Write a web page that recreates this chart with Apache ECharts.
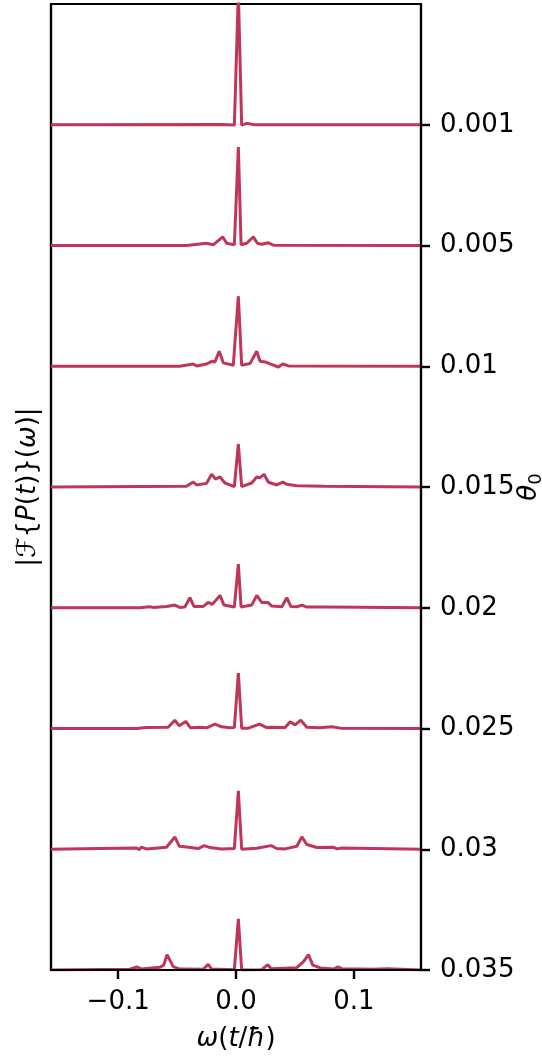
<!DOCTYPE html>
<html>
<head>
<meta charset="utf-8">
<script src="https://cdn.jsdelivr.net/npm/echarts@6/dist/echarts.min.js"></script>
<style>
  html, body { margin: 0; padding: 0; background: #fff; }
  #chart { width: 542px; height: 1059px; }
</style>
</head>
<body>
<div id="chart"></div>
<script>
// θ0 values, one spectrum per row, top to bottom
const thetaLabels = ['0.001', '0.005', '0.01', '0.015', '0.02', '0.025', '0.03', '0.035'];

// frequency axis range and tick positions
const omegaMin = -0.157;
const omegaMax = 0.157;
const omegaTicks = [-0.1, 0, 0.1];

// |F{P(t)}(ω)| per θ0 as [ω, amplitude], amplitude in units of the row spacing
const spec001 = [[-0.157, 0], [-0.012, 0.002], [-0.0014, -0.003], [0.002, 1.1], [0.0048, -0.003], [0.0091, 0.012], [0.0147, 0.001], [0.157, 0]];
const spec005 = [[-0.157, 0], [-0.042, 0], [-0.025, 0.019], [-0.0193, 0.006], [-0.0113, 0.072], [-0.0079, 0.019], [-0.0014, 0.006], [0.002, 0.815], [0.0043, 0.006], [0.0091, 0.019], [0.0147, 0.072], [0.0181, 0.019], [0.0218, 0.011], [0.0275, 0.022], [0.0318, 0.002], [0.157, 0]];
const spec01 = [[-0.157, 0], [-0.0477, 0], [-0.0363, 0.019], [-0.0335, 0.002], [-0.025, 0.019], [-0.0207, 0.041], [-0.0179, 0.036], [-0.0142, 0.124], [-0.0108, 0.028], [-0.0023, 0.008], [0.002, 0.58], [0.0048, 0.008], [0.0119, 0.022], [0.0176, 0.124], [0.0204, 0.041], [0.0247, 0.036], [0.0289, 0.019], [0.036, -0.006], [0.0397, 0.019], [0.0445, 0.003], [0.157, 0]];
const spec015 = [[-0.157, 0], [-0.042, 0.006], [-0.0363, 0.041], [-0.0335, 0.017], [-0.025, 0.03], [-0.0207, 0.105], [-0.0173, 0.066], [-0.0136, 0.083], [-0.0094, 0.033], [-0.0014, 0.003], [0.002, 0.356], [0.0048, 0.003], [0.0133, 0.033], [0.0176, 0.083], [0.0204, 0.077], [0.0238, 0.105], [0.0275, 0.039], [0.0346, 0.017], [0.0397, 0.041], [0.0431, 0.022], [0.0516, 0.011], [0.0743, 0.006], [0.157, 0]];
const spec02 = [[-0.157, 0], [-0.0817, 0], [-0.0732, 0.008], [-0.0704, 0.003], [-0.059, 0.011], [-0.0519, 0.022], [-0.0477, 0.003], [-0.0434, 0.006], [-0.0391, 0.083], [-0.0357, 0.011], [-0.0278, 0.011], [-0.0236, 0.044], [-0.0201, 0.028], [-0.0136, 0.102], [-0.0102, 0.022], [-0.0014, 0.006], [0.002, 0.362], [0.0043, 0.006], [0.0133, 0.022], [0.0176, 0.102], [0.0218, 0.044], [0.027, 0.044], [0.0304, 0.014], [0.0389, 0.008], [0.0431, 0.083], [0.0465, 0.011], [0.0516, 0.008], [0.0559, 0.022], [0.0601, 0.006], [0.0772, 0.006], [0.157, 0]];
const spec025 = [[-0.157, 0], [-0.0845, 0], [-0.076, 0.008], [-0.0576, 0.011], [-0.0519, 0.069], [-0.0482, 0.022], [-0.0426, 0.058], [-0.0386, 0.006], [-0.0306, 0.011], [-0.025, 0.006], [-0.0179, 0.036], [-0.0122, 0.014], [-0.0051, 0.006], [-0.0014, 0.008], [0.002, 0.459], [0.0048, 0.003], [0.0105, 0.003], [0.0199, 0.036], [0.0261, 0.008], [0.0289, 0.011], [0.0417, 0.008], [0.046, 0.055], [0.0502, 0.03], [0.055, 0.069], [0.0601, 0.011], [0.0715, 0.006], [0.0814, 0.014], [0.0885, 0.003], [0.157, 0]];
const spec03 = [[-0.157, 0], [-0.1157, 0.006], [-0.0845, 0.011], [-0.0823, -0.003], [-0.0803, 0.017], [-0.076, 0.003], [-0.059, 0.017], [-0.0519, 0.102], [-0.0482, 0.025], [-0.042, 0.019], [-0.0321, 0.006], [-0.027, 0.03], [-0.0221, 0.014], [-0.0122, 0.003], [-0.0014, 0.006], [0.002, 0.483], [0.0048, 0], [0.0176, 0.008], [0.0298, 0.03], [0.0346, 0.006], [0.0417, 0.003], [0.0516, 0.025], [0.0559, 0.102], [0.0601, 0.039], [0.0687, 0.014], [0.0823, 0.017], [0.0857, 0.003], [0.09, 0.011], [0.157, 0]];
const spec035 = [[-0.157, 0], [-0.0902, 0.006], [-0.084, 0.025], [-0.0803, 0.008], [-0.0647, 0.022], [-0.0613, 0.041], [-0.0585, 0.127], [-0.0533, 0.028], [-0.0477, 0.008], [-0.0278, 0.006], [-0.0236, 0.047], [-0.0207, 0.008], [-0.0014, 0.003], [0.002, 0.423], [0.0048, 0], [0.0218, 0.003], [0.027, 0.044], [0.0298, 0.011], [0.0516, 0.019], [0.0573, 0.069], [0.0615, 0.127], [0.0652, 0.041], [0.0715, 0.017], [0.0828, 0.008], [0.0865, 0.025], [0.09, 0.011], [0.1169, 0.006], [0.1283, 0.011], [0.157, 0]];

const spectra = [spec001, spec005, spec01, spec015, spec02, spec025, spec03, spec035];

const lineColor = '#c0365a';
const font = 'DejaVu Sans';
const fontSize = 26;
const rows = thetaLabels.length;

// each spectrum is lifted onto its own baseline, top row first
const series = spectra.map((spec, i) => ({
  type: 'line',
  name: thetaLabels[i],
  showSymbol: false,
  symbol: 'none',
  clip: true,
  lineStyle: { color: lineColor, width: 3 },
  data: spec.map(([w, a]) => [w, rows - 1 - i + a]),
  z: 2
}));

const rowTicks = thetaLabels.map((_, i) => i);

const italic = { fontFamily: font, fontSize: fontSize, fontStyle: 'italic', color: '#000' };
const upright = { fontFamily: font, fontSize: fontSize, color: '#000' };
const tickStyle = { show: true, inside: false, length: 9, lineStyle: { color: '#000', width: 2.4 } };

const chart = echarts.init(document.getElementById('chart'), null, { renderer: 'canvas' });
chart.setOption({
  animation: false,
  backgroundColor: '#ffffff',
  textStyle: { fontFamily: font },
  grid: {
    left: 51, right: 121, top: 4, bottom: 89,
    outerBoundsMode: 'none',
    containLabel: false,
    show: true, borderColor: '#000', borderWidth: 2.2, backgroundColor: 'transparent'
  },
  // right-hand axis title, written upwards beside the tick labels
  graphic: [{
    type: 'text',
    x: 529, y: 487,
    rotation: Math.PI / 2,
    style: {
      text: '{i|θ}{s|0}',
      align: 'center', verticalAlign: 'middle',
      rich: {
        i: italic,
        s: { fontFamily: font, fontSize: 18, fill: '#000', padding: [14, 0, 0, 0] }
      }
    }
  }],
  xAxis: {
    type: 'value',
    min: omegaMin, max: omegaMax,
    splitLine: { show: false },
    axisLine: { show: true, onZero: false, lineStyle: { color: '#000', width: 2.2 } },
    axisTick: Object.assign({ customValues: omegaTicks }, tickStyle),
    axisLabel: {
      customValues: omegaTicks,
      margin: 19,
      color: '#000', fontFamily: font, fontSize: fontSize,
      formatter: v => (v < 0 ? '\u2212' : '') + Math.abs(v).toFixed(1)
    },
    name: '{i|ω}{n|(}{i|t}{n|/}{i|ħ}{n|)}',
    nameLocation: 'middle',
    nameGap: 56,
    nameTextStyle: { rich: { i: italic, n: upright } },
    z: 5
  },
  yAxis: [
    {
      type: 'value',
      position: 'right',
      min: 0, max: rows,
      splitLine: { show: false },
      axisLine: { show: true, onZero: false, lineStyle: { color: '#000', width: 2.2 } },
      axisTick: Object.assign({ customValues: rowTicks }, tickStyle),
      axisLabel: {
        customValues: rowTicks,
        margin: 19,
        color: '#000', fontFamily: font, fontSize: fontSize,
        formatter: v => thetaLabels[rows - 1 - Math.round(v)]
      },
      z: 5
    },
    {
      type: 'value',
      position: 'left',
      min: 0, max: rows,
      splitLine: { show: false },
      axisLine: { show: true, onZero: false, lineStyle: { color: '#000', width: 2.2 } },
      axisTick: { show: false },
      axisLabel: { show: false },
      name: '{n||}{i|ℱ}{n|{}{i|P}{n|(}{i|t}{n|)}}{n|(}{i|ω}{n|)|}',
      nameLocation: 'middle',
      nameRotate: 90,
      nameGap: 10,
      nameTextStyle: Object.assign({ rich: { i: italic, n: upright } }, upright)
    }
  ],
  series: series
});
</script>
</body>
</html>
